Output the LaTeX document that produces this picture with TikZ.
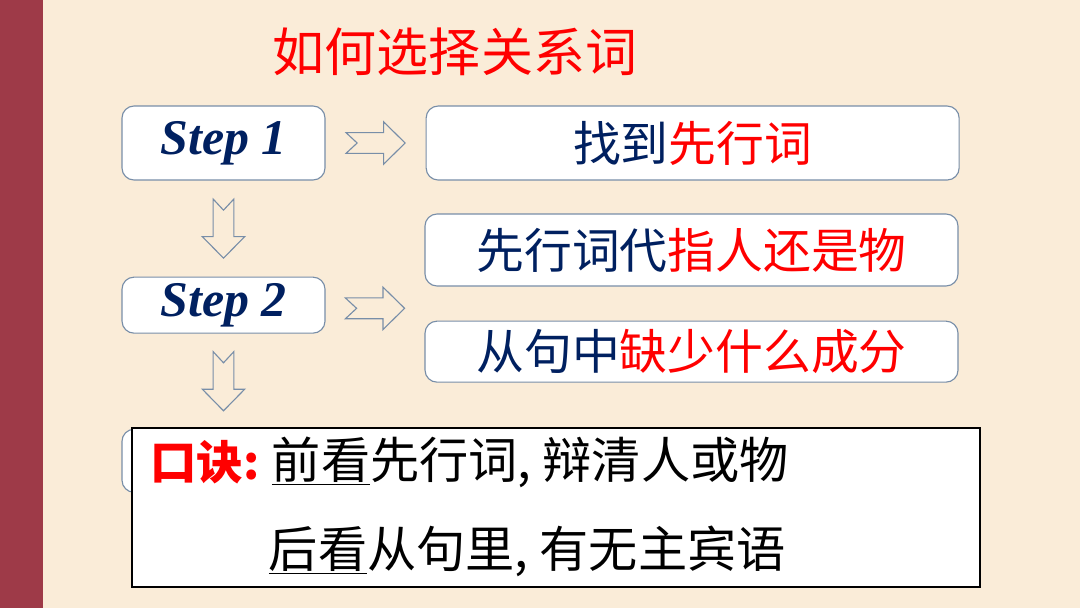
\documentclass[tikz,border=0pt]{standalone}
\usepackage{fontspec}
\setmainfont{Liberation Serif}
\newfontfamily\cjk{Noto Sans CJK SC}
\usepackage{tikz}
\usetikzlibrary{positioning, calc}
\definecolor{cream}{RGB}{250, 236, 216}
\definecolor{barred}{RGB}{158, 58, 72}
\definecolor{navy}{RGB}{0, 32, 96}
\definecolor{boxline}{RGB}{120, 142, 168}
\definecolor{hot}{RGB}{255, 0, 0}

\begin{document}
\begin{tikzpicture}[
  stepbox/.style={draw=boxline, fill=white, rounded corners=0.3cm, line width=0.8pt,
    minimum width=5.075cm, inner sep=0pt, text=navy,
    font=\fontsize{35.5}{42}\selectfont\bfseries\itshape},
  itembox/.style={draw=boxline, fill=white, rounded corners=0.3cm, line width=0.8pt,
    minimum width=13.325cm, inner sep=0pt, text=navy,
    font=\cjk\fontsize{34}{40}\selectfont},
  rhyme/.style={inner sep=0pt, anchor=west, font=\cjk\fontsize{35}{42}\selectfont},
  blockarrow/.pic={
    \draw[boxline, line width=0.8pt, line join=miter]
      (-0.74,0.26) -- (0.2,0.26) -- (0.2,0.53) -- (0.74,0) -- (0.2,-0.53)
      -- (0.2,-0.26) -- (-0.74,-0.26) -- (-0.46,0) -- cycle;
  }]
  % Background
  \fill[cream] (0,0) rectangle (27,-15.2);
  \fill[barred] (0,0) rectangle (1.075,-15.2);
  \useasboundingbox (0,0) rectangle (27,-15.2);
  % Title
  \node[font=\cjk\fontsize{37}{44}\selectfont, text=hot] (title) at (11.375,-1.3) {如何选择关系词};
  % Steps
  \node[stepbox, minimum height=1.85cm] (s1) at (5.5875,-3.575) {Step 1};
  \node[stepbox, minimum height=1.4cm, below=2.4cm of s1] (s2) {Step 2};
  \node[stepbox, minimum height=1.575cm, below=2.375cm of s2] (s3) {};
  % Right boxes
  \node[itembox, minimum height=1.85cm, right=2.5cm of s1] (r1) {找到\textcolor{hot}{先行词}};
  \node[itembox, minimum height=1.8cm] (r2) at (17.2875,-6.25) {先行词代\textcolor{hot}{指人还是物}};
  \node[itembox, minimum height=1.525cm, below=0.85cm of r2] (r3) {从句中\textcolor{hot}{缺少什么成分}};
  \node[itembox, minimum height=1.6cm, right=2.5cm of s3] (r4) {};
  % Arrows
  \pic at ($(s1.east)!0.5!(r1.west)$) {blockarrow};
  \pic at ($(s2.east)!0.5!(s2.east -| r2.west)+(0,-0.08)$) {blockarrow};
  \pic[rotate=-90] at ($(s1.south)!0.5!(s2.north)$) {blockarrow};
  \pic[rotate=-90] at ($(s2.south)!0.5!(s3.north)$) {blockarrow};
  % Mnemonic
  \node[draw=black, fill=white, line width=1.2pt, minimum width=21.2cm,
        minimum height=3.975cm] (mn) at (13.9,-12.6875) {};
  \node[rhyme, text=hot, font=\cjk\fontsize{33}{40}\selectfont\bfseries] (k0) at (3.75,-11.55) {口诀:};
  \node[rhyme, right=0.3cm of k0] (k1) {\underline{前看}先行词, 辩清人或物};
  \node[rhyme] (k2) at ($(k1.west)+(-0.075,-2.225)$) {\underline{后看}从句里, 有无主宾语};
\end{tikzpicture}
\end{document}
